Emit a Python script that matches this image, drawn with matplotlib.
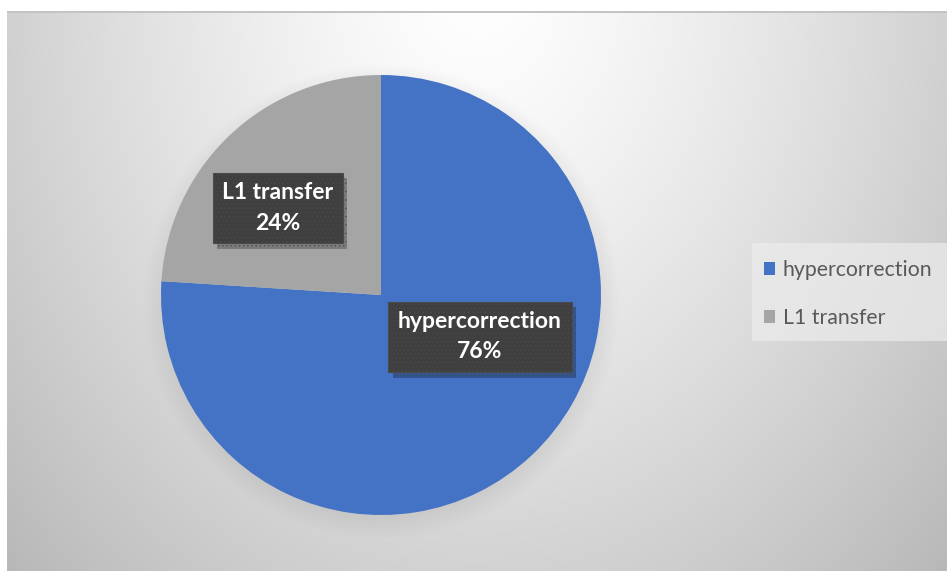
import numpy as np
import matplotlib
matplotlib.use("Agg")
import matplotlib.pyplot as plt
from matplotlib.patches import Patch
import matplotlib.patheffects as pe

categories = ["hypercorrection", "L1 transfer"]
shares = [76, 24]
colors = ["#4472C4", "#A5A5A5"]

W, H = 947, 571
fig = plt.figure(figsize=(W / 100, H / 100), dpi=100)
fig.patch.set_facecolor("white")
plt.rcParams["hatch.linewidth"] = 0.4

# chart area background: soft radial gradient with a shadow under the pie
x0, y0 = 7, 11
bw, bh = W - x0, H - y0
bg_ax = fig.add_axes([x0 / W, 0, bw / W, bh / H])
bg_ax.set_axis_off()
yy, xx = np.mgrid[0:bh, 0:bw].astype(float)
d = np.sqrt(((xx - 470) / 560) ** 2 + ((yy + 30) / 720) ** 2)
val = 255 - 58 * np.clip(d, 0, 1.25) ** 1.3
cx, cy, R = 381 - x0, 295 - y0, 220
dist = np.sqrt((xx - cx) ** 2 + (yy - cy - 6) ** 2)
shadow = np.clip((R + 18 - dist) / 36, 0, 1)
val = val * (1 - 0.10 * shadow)
val[0:2, :] = np.minimum(val[0:2, :], 195)
img = np.clip(val / 255, 0, 1)
bg_ax.imshow(np.dstack([img, img, img]), extent=[0, bw, bh, 0], aspect="auto")
bg_ax.set_xlim(0, bw)
bg_ax.set_ylim(bh, 0)

# pie axes
ax = fig.add_axes([(381 - 220) / W, (H - 295 - 220) / H, 440 / W, 440 / H])
ax.set_axis_off()
wedges, _ = ax.pie(shares, colors=colors, startangle=90, counterclock=False,
                   radius=1.0, wedgeprops=dict(linewidth=0))
ax.set_xlim(-1, 1)
ax.set_ylim(-1, 1)

label_pos = [(0.45, -0.19), (-0.468, 0.395)]
for name, v, (lx, ly) in zip(categories, shares, label_pos):
    t = ax.text(lx, ly, f"{name}\n{v}%", ha="center", va="center",
                fontsize=16.5, fontweight="bold", family="Lato",
                color="white", linespacing=1.55,
                bbox=dict(boxstyle="square,pad=0.42", fc="#3f3f3f",
                          ec="#4a4a4a", lw=0.8, hatch="...."))
    t.get_bbox_patch().set_path_effects([
        pe.SimplePatchShadow(offset=(3, -4), shadow_rgbFace="black",
                             alpha=0.25),
        pe.Normal(),
    ])

# legend
lg_ax = fig.add_axes([752 / W, (H - 341) / H, (W - 752) / W, 98 / H])
lg_ax.set_axis_off()
lg_ax.add_patch(plt.Rectangle((0, 0), 1, 1, transform=lg_ax.transAxes,
                              fc="#ececec", ec="none", alpha=0.7))
handles = [Patch(facecolor=c, edgecolor="none") for c in colors]
leg = lg_ax.legend(handles, categories, loc="center left",
                   bbox_to_anchor=(0.0, 0.48), frameon=False,
                   prop=dict(family="Lato", size=15.3), labelcolor="#595959",
                   handlelength=0.55, handleheight=0.55, handletextpad=0.35,
                   labelspacing=1.35, borderaxespad=0.15)

fig.savefig("out.png", dpi=100, facecolor="white")
